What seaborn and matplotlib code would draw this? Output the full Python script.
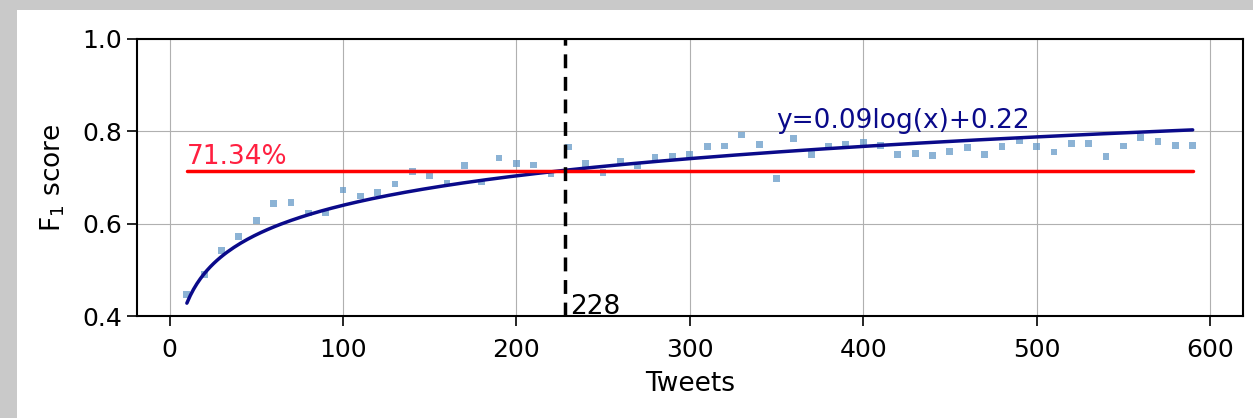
import numpy as np
import pandas as pd
import matplotlib
matplotlib.use('Agg')
import matplotlib.pyplot as plt
import seaborn as sns
from matplotlib.patches import Rectangle

# %%

tweets = list(range(10, 600, 10))
f1 = [0.446, 0.49, 0.541, 0.573, 0.606, 0.643, 0.645, 0.623, 0.623, 0.673,
      0.660, 0.668, 0.686, 0.712, 0.703, 0.688, 0.725, 0.690, 0.742, 0.731,
      0.727, 0.708, 0.766, 0.731, 0.710, 0.734, 0.725, 0.744, 0.745, 0.750,
      0.767, 0.768, 0.792, 0.772, 0.697, 0.785, 0.750, 0.768, 0.772, 0.776,
      0.770, 0.749, 0.752, 0.747, 0.757, 0.764, 0.749, 0.767, 0.779, 0.767,
      0.755, 0.774, 0.774, 0.745, 0.768, 0.786, 0.777, 0.770, 0.770]
# fitted curve (label shows rounded coefficients)
fit_a, fit_b = 0.092, 0.216
fit_label = 'y=0.09log(x)+0.22'
baseline = 0.7134
cross_x = 228

df = pd.DataFrame({'Tweets': tweets, 'F1': f1})
fit_df = pd.DataFrame({'Tweets': np.linspace(tweets[0], tweets[-1], 300)})
fit_df['fit'] = fit_a * np.log(fit_df['Tweets']) + fit_b

# %%

sns.set_style('ticks', {'axes.grid': True, 'grid.color': '#b0b0b0',
                        'axes.edgecolor': 'black', 'xtick.direction': 'out',
                        'ytick.direction': 'out', 'axes.labelcolor': 'black'})
plt.rcParams['font.family'] = ['DejaVu Sans']

fig = plt.figure(figsize=(12.53, 4.18), dpi=100)
fig.patch.set_facecolor('#c9c9c9')
fig.patches.append(Rectangle((17 / 1253, 0), 1, 408 / 418, transform=fig.transFigure,
                             facecolor='white', edgecolor='none', zorder=-10))
ax = fig.add_axes([0.109, 0.244, 0.883, 0.663])
ax.set_zorder(1)

sns.scatterplot(data=df, x='Tweets', y='F1', ax=ax, color='#5b93c4', alpha=0.7,
                marker='s', s=24, edgecolor='none', zorder=3)
sns.lineplot(data=fit_df, x='Tweets', y='fit', ax=ax, color='#0a0a8a', lw=2.5, zorder=4)
ax.plot([tweets[0], tweets[-1]], [baseline, baseline], color='red', lw=2.5, zorder=4)
ax.axvline(cross_x, color='black', ls='--', lw=2.5, dashes=(4, 2.5), zorder=5)

ax.text(tweets[0], baseline + 0.016, f'{baseline * 100:.2f}%', color='#ff2040', fontsize=19)
ax.text(cross_x + 3, 0.405, str(cross_x), color='black', fontsize=19)
ax.text(350, 0.806, fit_label, color='#0a0a8a', fontsize=19)

ax.set_ylim(0.4, 1.0)
ax.set_yticks([0.4, 0.6, 0.8, 1.0])
ax.set_xticks([0, 100, 200, 300, 400, 500, 600])
ax.set_xlim(-19, 619)
ax.set_xlabel('Tweets', fontsize=19, labelpad=6)
ax.set_ylabel('F$_1$ score', fontsize=19, labelpad=11)
ax.tick_params(axis='x', pad=9)
ax.tick_params(labelsize=18, length=7, width=1.2, colors='black')
for s in ax.spines.values():
    s.set_linewidth(1.5)

plt.savefig('out.png', dpi=100, facecolor=fig.get_facecolor())
